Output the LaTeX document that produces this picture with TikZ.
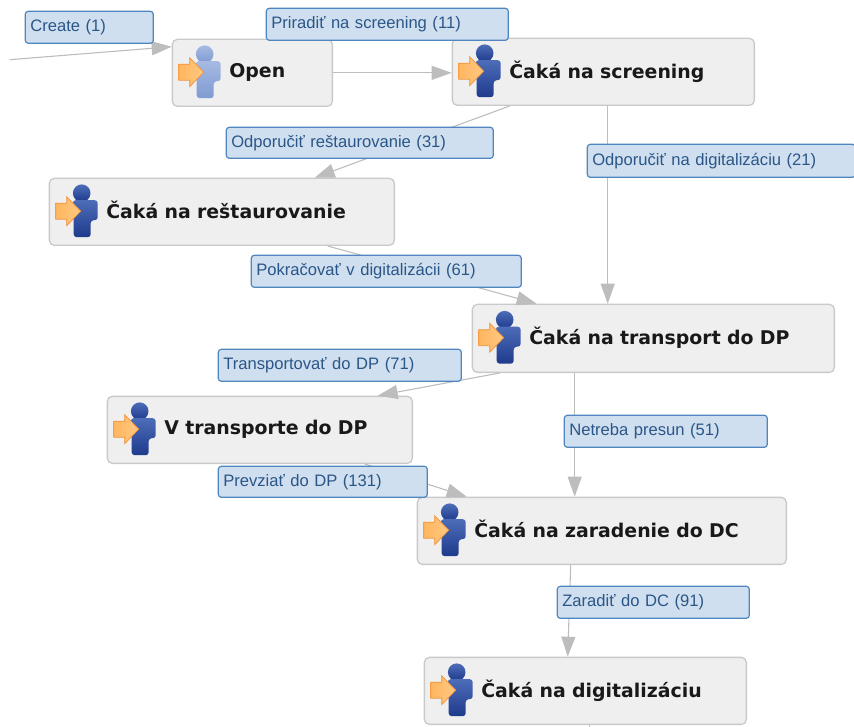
\documentclass[tikz,border=0pt]{standalone}
\usepackage{fontspec}
\setmainfont{Liberation Sans}
\newfontfamily\statefont{DejaVu Sans}
\usetikzlibrary{arrows.meta}
\definecolor{boxfill}{HTML}{EFEFEF}
\definecolor{boxline}{HTML}{C9C9C9}
\definecolor{tagfill}{HTML}{CFDFEF}
\definecolor{tagline}{HTML}{4F86BF}
\definecolor{tagtext}{HTML}{2A5688}
\definecolor{wire}{HTML}{BDBDBD}
\definecolor{paleA}{HTML}{A6BAE2}
\definecolor{paleB}{HTML}{7F9BD2}
\definecolor{deepA}{HTML}{4D6DB8}
\definecolor{deepB}{HTML}{1E3A8C}
\definecolor{arrowA}{HTML}{FFB660}
\definecolor{arrowB}{HTML}{FFC880}
\definecolor{arrowL}{HTML}{F0923A}
\tikzset{
  x=1pt,y=-1pt,
  statebox/.style={draw=boxline,fill=boxfill,line width=1.3pt,rounded corners=5pt,inner sep=0pt,anchor=north west,align=left,
    font=\statefont\fontsize{18.9}{22}\bfseries,text=black!90},
  tagbox/.style={draw=tagline,fill=tagfill,line width=1.2pt,rounded corners=3pt,inner sep=0pt,anchor=north west,align=left,
    font=\fontsize{16.6}{19}\selectfont,text=tagtext},
  wireline/.style={draw=wire,line width=1.1pt,-{Triangle[length=20pt,width=14pt,fill=wire]}},
  wireplain/.style={draw=wire,line width=1.1pt},
  pics/usericon/.style 2 args={code={
    \path[top color=#1,bottom color=#2] (33,-18) circle (8.8);
    \path[top color=#1,bottom color=#2,rounded corners=3pt]
      (24,-11) -- (49,-11) -- (49,9) -- (42,9) -- (42,26) -- (25,26) -- (25,9) -- cycle;
    \path[left color=arrowA,right color=arrowB,draw=arrowL,line width=.7pt]
      (7,-8) -- (18,-8) -- (18,-14.5) -- (32,0) -- (18,14.5) -- (18,8) -- (7,8) -- cycle;
  }},
}
\newcommand{\statenode}[6]{% name x y w h text
  \node[statebox,minimum height=#5pt,text width=#4pt] (#1) at (#2,#3) {\hspace*{57pt}#6\rule[-5pt]{0pt}{20pt}};}
\newcommand{\tagnode}[6]{%
  \node[tagbox,minimum height=#5pt,text width=#4pt] (#1) at (#2,#3) {\hspace*{5pt}\raisebox{2.5pt}{#6}};}
\begin{document}
\begin{tikzpicture}
\useasboundingbox (0.3,0.3) rectangle (854.3,727.3);
\statenode{open}{172}{39}{160}{67}{Open}
\statenode{screen}{452}{38}{302}{67}{Čaká na screening}
\statenode{rest}{49}{178}{345}{67}{Čaká na reštaurovanie}
\statenode{transport}{472}{304}{362}{68}{Čaká na transport do DP}
\statenode{vtrans}{107}{396}{305}{67}{V transporte do DP}
\statenode{zar}{417}{497}{369}{67}{Čaká na zaradenie do DC}
\statenode{dig}{424}{657}{322}{67}{Čaká na digitalizáciu}
\pic at (172,72.5) {usericon={paleA}{paleB}};
\pic at (452,71.5) {usericon={deepA}{deepB}};
\pic at (49,211.5) {usericon={deepA}{deepB}};
\pic at (472,338) {usericon={deepA}{deepB}};
\pic at (107,429.5) {usericon={deepA}{deepB}};
\pic at (417,530.5) {usericon={deepA}{deepB}};
\pic at (424,690.5) {usericon={deepA}{deepB}};
\coordinate (start) at (10,60);
\coordinate (exit) at (590,728);
\draw[wireline] (start) -- ([yshift=-8pt]open.north west);
\draw[wireline] (open.east) -- (open.east -| screen.west);
\draw[wireline] ([xshift=58pt]screen.south west) -- ([xshift=266pt]rest.north west);
\draw[wireline] ([xshift=156pt]screen.south west) -- ([xshift=136pt]transport.north west);
\draw[wireline] ([xshift=279pt]rest.south west) -- ([xshift=65pt]transport.north west);
\draw[wireline] ([xshift=28pt]transport.south west) -- ([xshift=271pt]vtrans.north west);
\draw[wireline] ([xshift=103pt]transport.south west) -- ([xshift=158pt]zar.north west);
\draw[wireline] ([xshift=258pt]vtrans.south west) -- ([xshift=50pt]zar.north west);
\draw[wireline] ([xshift=154pt]zar.south west) -- ([xshift=144pt]dig.north west);
\draw[wireplain] ([xshift=166pt]dig.south west) -- (exit);
\tagnode{t1}{25}{11}{128}{32}{Create (1)}
\tagnode{t2}{266}{8}{242}{32}{Priradiť na screening (11)}
\tagnode{t3}{226}{127}{267}{31}{Odporučiť reštaurovanie (31)}
\tagnode{t4}{587}{144}{268}{33}{Odporučiť na digitalizáciu (21)}
\tagnode{t5}{251}{255}{270}{32}{Pokračovať v digitalizácii (61)}
\tagnode{t6}{218}{349}{243}{32}{Transportovať do DP (71)}
\tagnode{t7}{564}{415}{203}{32}{Netreba presun (51)}
\tagnode{t8}{218}{466}{209}{31}{Prevziať do DP (131)}
\tagnode{t9}{557}{586}{192}{32}{Zaradiť do DC (91)}
\end{tikzpicture}
\end{document}
